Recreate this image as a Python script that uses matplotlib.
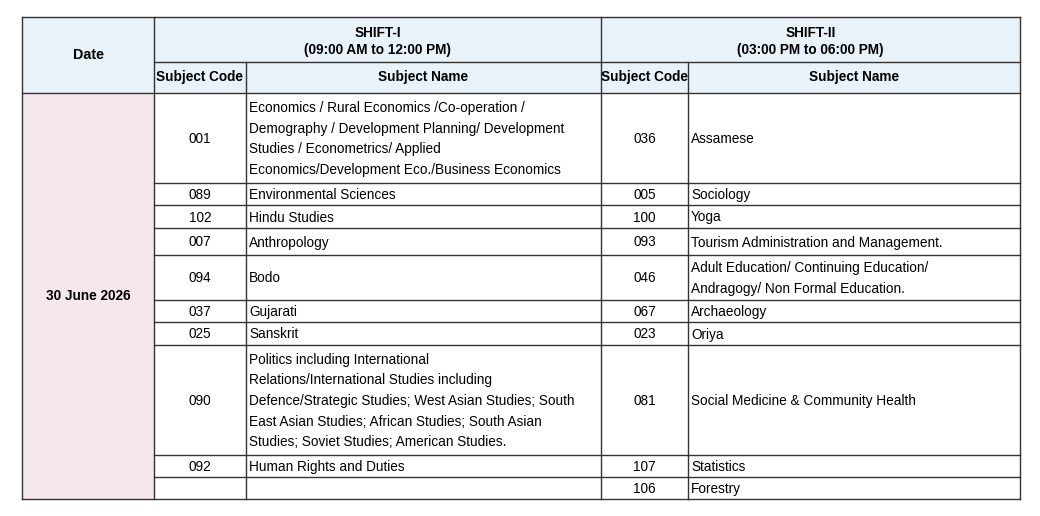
import matplotlib.pyplot as plt
from matplotlib.patches import Rectangle

date = "30 June 2026"
shift1_title = "SHIFT-I\n(09:00 AM to 12:00 PM)"
shift2_title = "SHIFT-II\n(03:00 PM to 06:00 PM)"
s1_codes = ["001", "089", "102", "007", "094", "037", "025", "090", "092", ""]
s1_names = [
    "Economics / Rural Economics /Co-operation /\nDemography / Development Planning/ Development\nStudies / Econometrics/ Applied\nEconomics/Development Eco./Business Economics",
    "Environmental Sciences", "Hindu Studies", "Anthropology", "Bodo", "Gujarati", "Sanskrit",
    "Politics including International\nRelations/International Studies including\nDefence/Strategic Studies; West Asian Studies; South\nEast Asian Studies; African Studies; South Asian\nStudies; Soviet Studies; American Studies.",
    "Human Rights and Duties", "",
]
s2_codes = ["036", "005", "100", "093", "046", "067", "023", "081", "107", "106"]
s2_names = [
    "Assamese", "Sociology", "Yoga", "Tourism Administration and Management.",
    "Adult Education/ Continuing Education/\nAndragogy/ Non Formal Education.",
    "Archaeology", "Oriya", "Social Medicine & Community Health", "Statistics", "Forestry",
]

row_edges = [93, 183, 205, 228, 255, 300, 322, 345, 455, 477, 499]
cols = [22, 154, 246, 601, 688, 1020]
top, mid = 17, 62

plt.rcParams['font.family'] = ['Liberation Sans', 'DejaVu Sans']
fig = plt.figure(figsize=(10.4, 5.16), dpi=100)
ax = fig.add_axes([0, 0, 1, 1])
ax.set_xlim(0, 1040)
ax.set_ylim(516, 0)
ax.axis('off')

hdr = '#e9f1f9'
pink = '#f4e8ee'
ax.add_patch(Rectangle((cols[0], top), cols[-1] - cols[0], row_edges[0] - top, fc=hdr, ec='none'))
ax.add_patch(Rectangle((cols[0], row_edges[0]), cols[1] - cols[0], row_edges[-1] - row_edges[0], fc=pink, ec='none'))

lc = '#333333'
lw = 1.0
def hline(y, x0, x1):
    ax.plot([x0, x1], [y, y], color=lc, lw=lw)
def vline(x, y0, y1):
    ax.plot([x, x], [y0, y1], color=lc, lw=lw)

hline(top, cols[0], cols[-1])
hline(mid, cols[1], cols[-1])
hline(row_edges[0], cols[0], cols[-1])
for y in row_edges[1:-1]:
    hline(y, cols[1], cols[-1])
hline(row_edges[-1], cols[0], cols[-1])
vline(cols[0], top, row_edges[-1])
vline(cols[1], top, row_edges[-1])
vline(cols[3], top, row_edges[-1])
vline(cols[-1], top, row_edges[-1])
vline(cols[2], mid, row_edges[-1])
vline(cols[4], mid, row_edges[-1])

fs = 9.8
ax.text((cols[0] + cols[1]) / 2, (top + row_edges[0]) / 2, "Date", ha='center', va='center', fontsize=fs + 0.5, fontweight='bold')
ax.text((cols[1] + cols[3]) / 2, (top + mid) / 2 + 2, shift1_title, ha='center', va='center', fontsize=fs, fontweight='bold', linespacing=1.35)
ax.text((cols[3] + cols[5]) / 2, (top + mid) / 2 + 2, shift2_title, ha='center', va='center', fontsize=fs, fontweight='bold', linespacing=1.35)
ym = (mid + row_edges[0]) / 2
for c0, c1, t in [(1, 2, "Subject Code"), (2, 3, "Subject Name"), (3, 4, "Subject Code"), (4, 5, "Subject Name")]:
    ax.text((cols[c0] + cols[c1]) / 2, ym, t, ha='center', va='center', fontsize=fs, fontweight='bold')
ax.text((cols[0] + cols[1]) / 2, (row_edges[0] + row_edges[-1]) / 2, date, ha='center', va='center', fontsize=fs, fontweight='bold')

for i in range(len(s1_codes)):
    yc = (row_edges[i] + row_edges[i + 1]) / 2 + 1
    ax.text((cols[1] + cols[2]) / 2, yc, s1_codes[i], ha='center', va='center', fontsize=fs)
    ax.text(cols[2] + 3, yc, s1_names[i], ha='left', va='center', fontsize=fs, linespacing=1.6)
    ax.text((cols[3] + cols[4]) / 2, yc, s2_codes[i], ha='center', va='center', fontsize=fs)
    ax.text(cols[4] + 3, yc, s2_names[i], ha='left', va='center', fontsize=fs, linespacing=1.6)

fig.savefig('out.png', dpi=100, facecolor='white')
